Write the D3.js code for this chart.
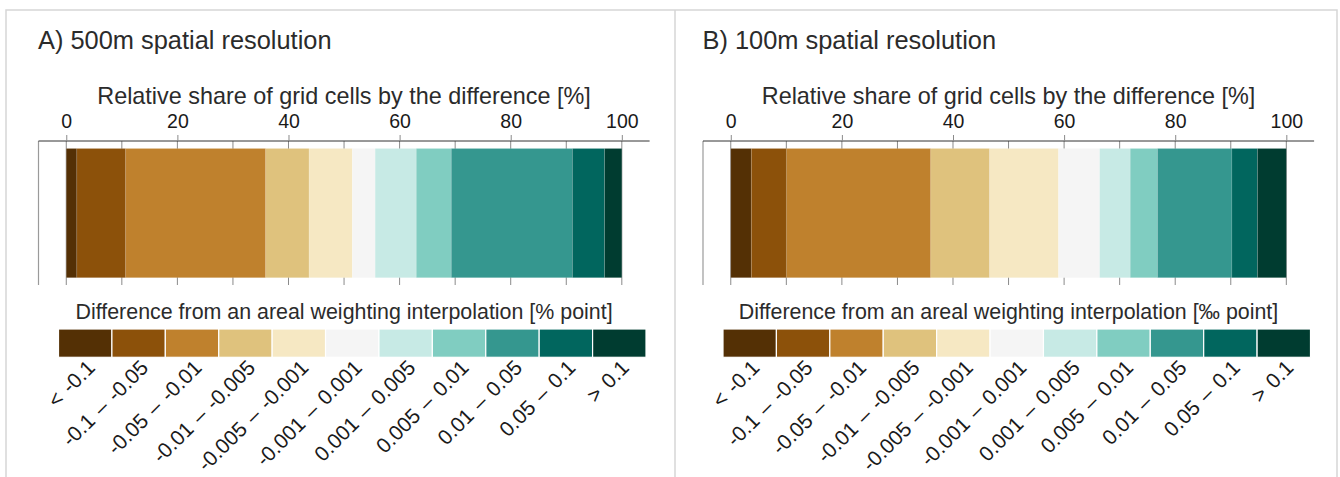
<!DOCTYPE html>
<html>
<head>
<meta charset="utf-8">
<script src="https://cdn.jsdelivr.net/npm/d3@7"></script>
<style>
  body { margin: 0; background: #fff; }
  svg { display: block; font-family: "Liberation Sans", Arial, sans-serif; }
</style>
</head>
<body>
<svg id="chart" width="1340" height="477"></svg>
<script>
// classes of the difference, shared by both panels
const categories = ["< -0.1", "-0.1 \u2013 -0.05", "-0.05 \u2013 -0.01", "-0.01 \u2013 -0.005",
  "-0.005 \u2013 -0.001", "-0.001 \u2013 0.001", "0.001 \u2013 0.005", "0.005 \u2013 0.01",
  "0.01 \u2013 0.05", "0.05 \u2013 0.1", "> 0.1"];
const classColors = ["#543005", "#8c510a", "#bf812d", "#dfc27d", "#f6e8c3", "#f5f5f5",
  "#c7eae5", "#80cdc1", "#35978f", "#01665e", "#003c30"];

// relative share of grid cells [%] per class
const share500 = [1.9, 8.8, 25.2, 7.8, 7.8, 4.1, 7.4, 6.3, 21.8, 5.8, 3.1];
const share100 = [3.7, 6.3, 26.0, 10.6, 12.4, 7.4, 5.5, 4.9, 13.4, 4.6, 5.2];

const labelTicks = [0, 20, 40, 60, 80, 100];
const gridTicks = [0, 10, 20, 30, 40, 50, 60, 70, 80, 90, 100];

const panels = [
  {title: "A) 500m spatial resolution", shares: share500,
   legendTitle: "Difference from an areal weighting interpolation [% point]", dx: 0},
  {title: "B) 100m spatial resolution", shares: share100,
   legendTitle: "Difference from an areal weighting interpolation [\u2030 point]", dx: 664.5}
];

const svg = d3.select("#chart");

// frame
const frame = svg.append("g").attr("fill", "none").attr("stroke", "#d6d6d6").attr("stroke-width", 1.5);
frame.append("path").attr("d", "M6,477V10H1337V477");
frame.append("line").attr("x1", 675).attr("x2", 675).attr("y1", 10).attr("y2", 477);

function drawPanel(p) {
  const g = svg.append("g").attr("transform", `translate(${p.dx},0)`);

  const x = d3.scaleLinear().domain([-5, 105]).range([38.5, 649.6]);
  const barTop = 148.5, barBottom = 277.7, axisY = 141, gridBottom = 285;

  g.append("text")
    .attr("x", 38).attr("y", 49)
    .attr("font-size", 25.4).attr("fill", "#2b2b2b")
    .text(p.title);

  // grid lines behind bars
  g.append("g").selectAll("line")
    .data(gridTicks)
    .join("line")
    .attr("x1", d => x(d)).attr("x2", d => x(d))
    .attr("y1", axisY).attr("y2", gridBottom)
    .attr("stroke", "#8a8a8a").attr("stroke-width", 1);

  g.append("line")
    .attr("x1", x(-5)).attr("x2", x(-5))
    .attr("y1", axisY).attr("y2", gridBottom)
    .attr("stroke", "#9a9a9a").attr("stroke-width", 1.2);

  // stacked bar
  const stacked = [];
  let acc = 0;
  p.shares.forEach((v, i) => { stacked.push({i, x0: acc, x1: acc + v}); acc += v; });

  g.append("g").selectAll("rect")
    .data(stacked)
    .join("rect")
    .attr("x", d => x(d.x0))
    .attr("width", d => x(d.x1) - x(d.x0))
    .attr("y", barTop)
    .attr("height", barBottom - barTop)
    .attr("fill", d => classColors[d.i])
    .attr("stroke", "#ffffff").attr("stroke-opacity", 0.15).attr("stroke-width", 0.8);

  // top axis
  const axis = d3.axisTop(x).tickValues(labelTicks).tickSize(6).tickPadding(6.7);
  const ax = g.append("g").attr("transform", `translate(0,${axisY})`).call(axis);
  ax.select(".domain").attr("stroke", "#333").attr("d", `M${x(-5)},0H${x(105)}`);
  ax.selectAll(".tick line").attr("stroke", "#8a8a8a");
  ax.selectAll(".tick text")
    .attr("font-size", 19.5).attr("fill", "#1a1a1a")
    .attr("font-family", "'Liberation Sans', Arial, sans-serif");

  g.append("text")
    .attr("x", x(50)).attr("y", 104)
    .attr("text-anchor", "middle")
    .attr("font-size", 23.4).attr("fill", "#2b2b2b")
    .text("Relative share of grid cells by the difference [%]");

  // legend
  const lx = d3.scaleBand().domain(categories).range([58.5, 646]).paddingInner(0);
  const legTop = 329, legBottom = 357.3;

  g.append("text")
    .attr("x", x(50)).attr("y", 319)
    .attr("text-anchor", "middle")
    .attr("font-size", 21.4).attr("fill", "#2b2b2b")
    .text(p.legendTitle);

  g.append("g").selectAll("rect")
    .data(categories)
    .join("rect")
    .attr("x", d => lx(d))
    .attr("width", lx.bandwidth())
    .attr("y", legTop)
    .attr("height", legBottom - legTop)
    .attr("fill", (d, i) => classColors[i])
    .attr("stroke", "#ffffff").attr("stroke-width", 1.2);

  g.append("g").selectAll("text")
    .data(categories)
    .join("text")
    .attr("transform", d => `translate(${lx(d) + lx.bandwidth() / 2 + 11},369) rotate(-45)`)
    .attr("text-anchor", "end")
    .attr("font-size", 21).attr("fill", "#1a1a1a")
    .attr("word-spacing", 2)
    .text(d => d);
}

panels.forEach(drawPanel);
</script>
</body>
</html>
